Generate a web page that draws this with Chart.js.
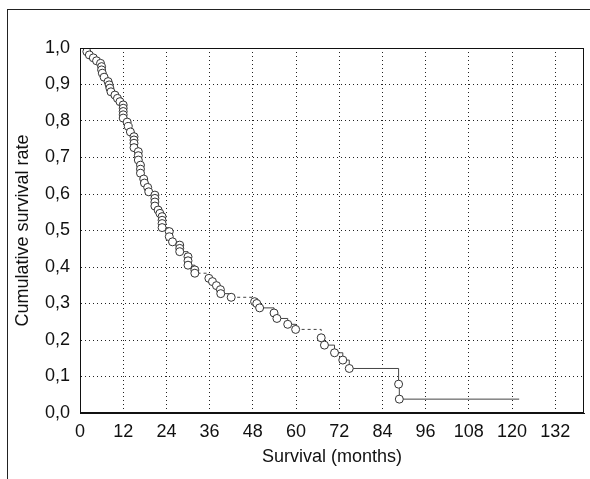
<!DOCTYPE html>
<html>
<head>
<meta charset="utf-8">
<script src="https://cdn.jsdelivr.net/npm/chart.js@4.4.1/dist/chart.umd.min.js"></script>
<style>
    html, body { margin: 0; padding: 0; background: #fff; }
    #wrap { position: relative; width: 590px; height: 479px; overflow: hidden; }
    #frame { position: absolute; left: 7px; top: 9px; width: 700px; height: 700px; border: 1px solid #222; }
    #survivalChart { position: absolute; left: 0; top: 0; }
</style>
</head>
<body>
<div id="wrap">
    <div id="frame"></div>
    <canvas id="survivalChart" width="590" height="479"></canvas>
</div>
<script>
// Kaplan-Meier estimate (months, cumulative survival)
const months = [
    1.9, 2.6, 3.7, 4.6, 5.7, 6.0, 6.0, 6.2, 6.7, 7.8,
    8.1, 8.3, 8.6, 9.7, 10.4, 11.1, 12.0, 12.0, 12.0, 12.0,
    12.0, 13.1, 13.4, 14.0, 15.0, 15.0, 15.0, 15.0, 16.2, 16.2,
    16.2, 16.8, 16.8, 16.8, 17.7, 17.9, 18.8, 19.1, 20.8, 20.8,
    20.8, 20.8, 21.7, 22.2, 22.8, 22.8, 22.8, 22.8, 24.8, 24.8,
    25.7, 27.7, 27.7, 27.7, 30.0, 30.0, 30.0, 31.9, 31.9, 35.8,
    36.8, 37.9, 39.0, 39.1, 42.0, 48.5, 49.1, 49.9, 53.9, 54.7,
    57.7, 59.9, 67.0, 67.9, 70.7, 73.0, 74.8, 88.5, 88.7, 122.0
];
const survival = [
    0.990, 0.981, 0.973, 0.965, 0.958, 0.949, 0.940, 0.931, 0.920, 0.908,
    0.899, 0.890, 0.880, 0.871, 0.862, 0.853, 0.844, 0.835, 0.826, 0.817,
    0.808, 0.797, 0.785, 0.770, 0.757, 0.748, 0.739, 0.727, 0.716, 0.705,
    0.693, 0.679, 0.668, 0.657, 0.641, 0.630, 0.618, 0.606, 0.597, 0.588,
    0.578, 0.567, 0.556, 0.547, 0.538, 0.528, 0.519, 0.508, 0.497, 0.483,
    0.469, 0.460, 0.451, 0.442, 0.428, 0.417, 0.405, 0.392, 0.383, 0.369,
    0.360, 0.349, 0.338, 0.327, 0.317, 0.305, 0.300, 0.288, 0.274, 0.259,
    0.243, 0.229, 0.206, 0.186, 0.165, 0.145, 0.122, 0.079, 0.038, 0.038
];
// last observation is censored (no circle)
const censored = [122.0];
// steps that the original draws dotted (start month of the segment)
const dottedFrom = [31.9, 42.0, 59.9];

const xTicks = [0, 12, 24, 36, 48, 60, 72, 84, 96, 108, 120, 132];
const yTicks = [0, 0.1, 0.2, 0.3, 0.4, 0.5, 0.6, 0.7, 0.8, 0.9, 1.0];

const textColor = '#111';
const font = { family: "'Liberation Sans', Arial, sans-serif", size: 18 };

const points = months.map((m, i) => ({ x: m, y: survival[i] }));

const plotFrame = {
    id: 'plotFrame',
    afterDraw(chart) {
        const { ctx, chartArea: a } = chart;
        ctx.save();
        ctx.strokeStyle = '#111';
        ctx.lineWidth = 1;
        ctx.strokeRect(a.left + 0.5, a.top + 0.5, a.right - a.left - 1, a.bottom - a.top - 1);
        ctx.restore();
    }
};

new Chart(document.getElementById('survivalChart'), {
    type: 'scatter',
    data: {
        datasets: [{
            label: 'Survival',
            data: points,
            showLine: true,
            stepped: 'before',
            borderColor: '#444',
            borderWidth: 1,
            segment: {
                borderDash: (ctx) => dottedFrom.includes(months[ctx.p0DataIndex]) ? [3, 3] : undefined
            },
            pointRadius: (c) => censored.includes(months[c.dataIndex]) ? 0 : 4,
            pointBackgroundColor: '#fff',
            pointBorderColor: '#333',
            pointBorderWidth: 1
        }]
    },
    options: {
        responsive: false,
        animation: false,
        layout: { padding: { left: 0, top: 48, right: 6, bottom: 0 } },
        plugins: {
            legend: { display: false },
            tooltip: { enabled: false }
        },
        scales: {
            x: {
                type: 'linear',
                min: 0,
                max: 140,
                afterBuildTicks: (scale) => { scale.ticks = xTicks.map(v => ({ value: v })); },
                afterFit: (scale) => { scale.height = 66; },
                grid: { color: '#222', drawTicks: false },
                border: { color: '#111', dash: [1, 3] },
                ticks: { color: textColor, font, padding: 8, maxRotation: 0, autoSkip: false },
                title: {
                    display: true,
                    text: 'Survival (months)',
                    color: textColor,
                    font,
                    padding: { top: 0, bottom: 11 }
                }
            },
            y: {
                type: 'linear',
                min: 0,
                max: 1,
                afterBuildTicks: (scale) => { scale.ticks = yTicks.map(v => ({ value: v })); },
                afterFit: (scale) => { scale.width = 80; },
                grid: { color: '#222', drawTicks: false },
                border: { color: '#111', dash: [1, 3] },
                ticks: {
                    color: textColor,
                    font,
                    padding: 10,
                    autoSkip: false,
                    callback: (v) => v.toFixed(1).replace('.', ',')
                },
                title: {
                    display: true,
                    text: 'Cumulative survival rate',
                    color: textColor,
                    font,
                    padding: { top: 12, bottom: 0 }
                }
            }
        }
    },
    plugins: [plotFrame]
});
</script>
</body>
</html>
